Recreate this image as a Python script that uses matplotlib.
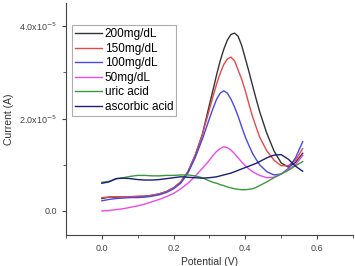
import numpy as np
import matplotlib
matplotlib.use("Agg")
import matplotlib.pyplot as plt
from matplotlib.ticker import FuncFormatter, MultipleLocator

plt.rcParams['font.family'] = ['Liberation Sans', 'DejaVu Sans']

# potential (V)
potential = [0.00, 0.02, 0.04, 0.06, 0.08, 0.10, 0.12, 0.14, 0.16, 0.18,
             0.20, 0.22, 0.24, 0.26, 0.28,
             0.30, 0.31, 0.32, 0.33, 0.34, 0.35, 0.36, 0.37, 0.38, 0.39,
             0.40, 0.41, 0.42, 0.43, 0.44,
             0.46, 0.48, 0.50, 0.52, 0.54, 0.56]

# current in units of 1e-5 A
glu_200 = [0.27, 0.30, 0.30, 0.31, 0.31, 0.31, 0.32, 0.34, 0.37, 0.42,
           0.50, 0.63, 0.85, 1.20, 1.65,
           2.30, 2.62, 2.95, 3.25, 3.50, 3.70, 3.82, 3.85, 3.78, 3.58,
           3.30, 3.02, 2.72, 2.43, 2.15,
           1.68, 1.30, 1.04, 0.95, 1.05, 1.25]
glu_150 = [0.29, 0.30, 0.31, 0.31, 0.31, 0.32, 0.32, 0.34, 0.37, 0.42,
           0.50, 0.63, 0.85, 1.20, 1.65,
           2.20, 2.48, 2.75, 2.98, 3.17, 3.29, 3.33, 3.25, 3.05, 2.85,
           2.60, 2.32, 2.05, 1.82, 1.60,
           1.30, 1.10, 0.98, 0.98, 1.10, 1.35]
glu_100 = [0.22, 0.25, 0.27, 0.28, 0.29, 0.29, 0.30, 0.32, 0.35, 0.40,
           0.48, 0.60, 0.82, 1.15, 1.55,
           2.00, 2.22, 2.42, 2.55, 2.60, 2.55, 2.42, 2.25, 2.05, 1.82,
           1.60, 1.42, 1.25, 1.12, 1.00,
           0.85, 0.78, 0.80, 0.92, 1.15, 1.50]
glu_50 = [0.00, 0.01, 0.03, 0.05, 0.08, 0.11, 0.15, 0.20, 0.25, 0.31,
          0.38, 0.48, 0.60, 0.75, 0.92,
          1.10, 1.20, 1.29, 1.35, 1.39, 1.37, 1.32, 1.24, 1.15, 1.06,
          0.98, 0.91, 0.85, 0.81, 0.77,
          0.72, 0.73, 0.80, 0.90, 1.00, 1.20]
uric = [0.62, 0.64, 0.70, 0.72, 0.75, 0.77, 0.77, 0.76, 0.76, 0.77,
        0.77, 0.78, 0.78, 0.76, 0.72,
        0.65, 0.62, 0.60, 0.57, 0.55, 0.52, 0.50, 0.48, 0.47, 0.46,
        0.46, 0.47, 0.48, 0.51, 0.55,
        0.63, 0.72, 0.80, 0.88, 0.98, 1.07]
ascorbic = [0.60, 0.63, 0.70, 0.71, 0.70, 0.68, 0.67, 0.67, 0.68, 0.70,
            0.72, 0.74, 0.73, 0.72, 0.71,
            0.72, 0.73, 0.74, 0.76, 0.78, 0.80, 0.82, 0.85, 0.88, 0.91,
            0.94, 0.97, 1.00, 1.03, 1.07,
            1.15, 1.21, 1.22, 1.12, 0.97, 0.86]

series = [
    ("200mg/dL", glu_200, "#333333"),
    ("150mg/dL", glu_150, "#e84848"),
    ("100mg/dL", glu_100, "#4848e8"),
    ("50mg/dL", glu_50, "#f048f0"),
    ("uric acid", uric, "#3a9a3a"),
    ("ascorbic acid", ascorbic, "#1c1c7a"),
]

fig = plt.figure(figsize=(3.55, 2.66), dpi=100)
ax = fig.add_axes([0.186, 0.1165, 0.808, 0.872])

x = np.array(potential)
for label, vals, color in series:
    ax.plot(x, np.array(vals) * 1e-5, color=color, lw=1.0, label=label)

ax.set_xlim(-0.1, 0.7)
ax.set_ylim(-0.52e-5, 4.5e-5)
ax.xaxis.set_major_locator(MultipleLocator(0.2))
ax.xaxis.set_minor_locator(MultipleLocator(0.1))
ax.yaxis.set_major_locator(MultipleLocator(2e-5))
ax.yaxis.set_minor_locator(MultipleLocator(1e-5))


def yfmt(v, pos):
    if abs(v) < 1e-12:
        return "0.0"
    return "%.1fx10$^{-5}$" % (v / 1e-5)


ax.yaxis.set_major_formatter(FuncFormatter(yfmt))
ax.xaxis.set_major_formatter(FuncFormatter(lambda v, p: "%.1f" % v))

for s in ("top", "right"):
    ax.spines[s].set_visible(False)
for s in ("left", "bottom"):
    ax.spines[s].set_color("#444444")
    ax.spines[s].set_linewidth(0.8)
ax.tick_params(which="both", direction="out", colors="#444444", labelsize=6.5)
ax.tick_params(which="major", length=3)
ax.tick_params(which="minor", length=2)

ax.set_xlabel("Potential (V)", fontsize=7.5, color="#333333", labelpad=3)
ax.set_ylabel("Current (A)", fontsize=7.5, color="#333333", labelpad=4)

leg = ax.legend(loc="upper left", bbox_to_anchor=(0.02, 0.905), fontsize=8.5,
                frameon=True, fancybox=False, handlelength=2.3,
                handletextpad=0.25, labelspacing=0.22, borderpad=0.25,
                borderaxespad=0.0)
leg.get_frame().set_edgecolor("#999999")
leg.get_frame().set_linewidth(0.8)

fig.savefig("out.png", dpi=100)
